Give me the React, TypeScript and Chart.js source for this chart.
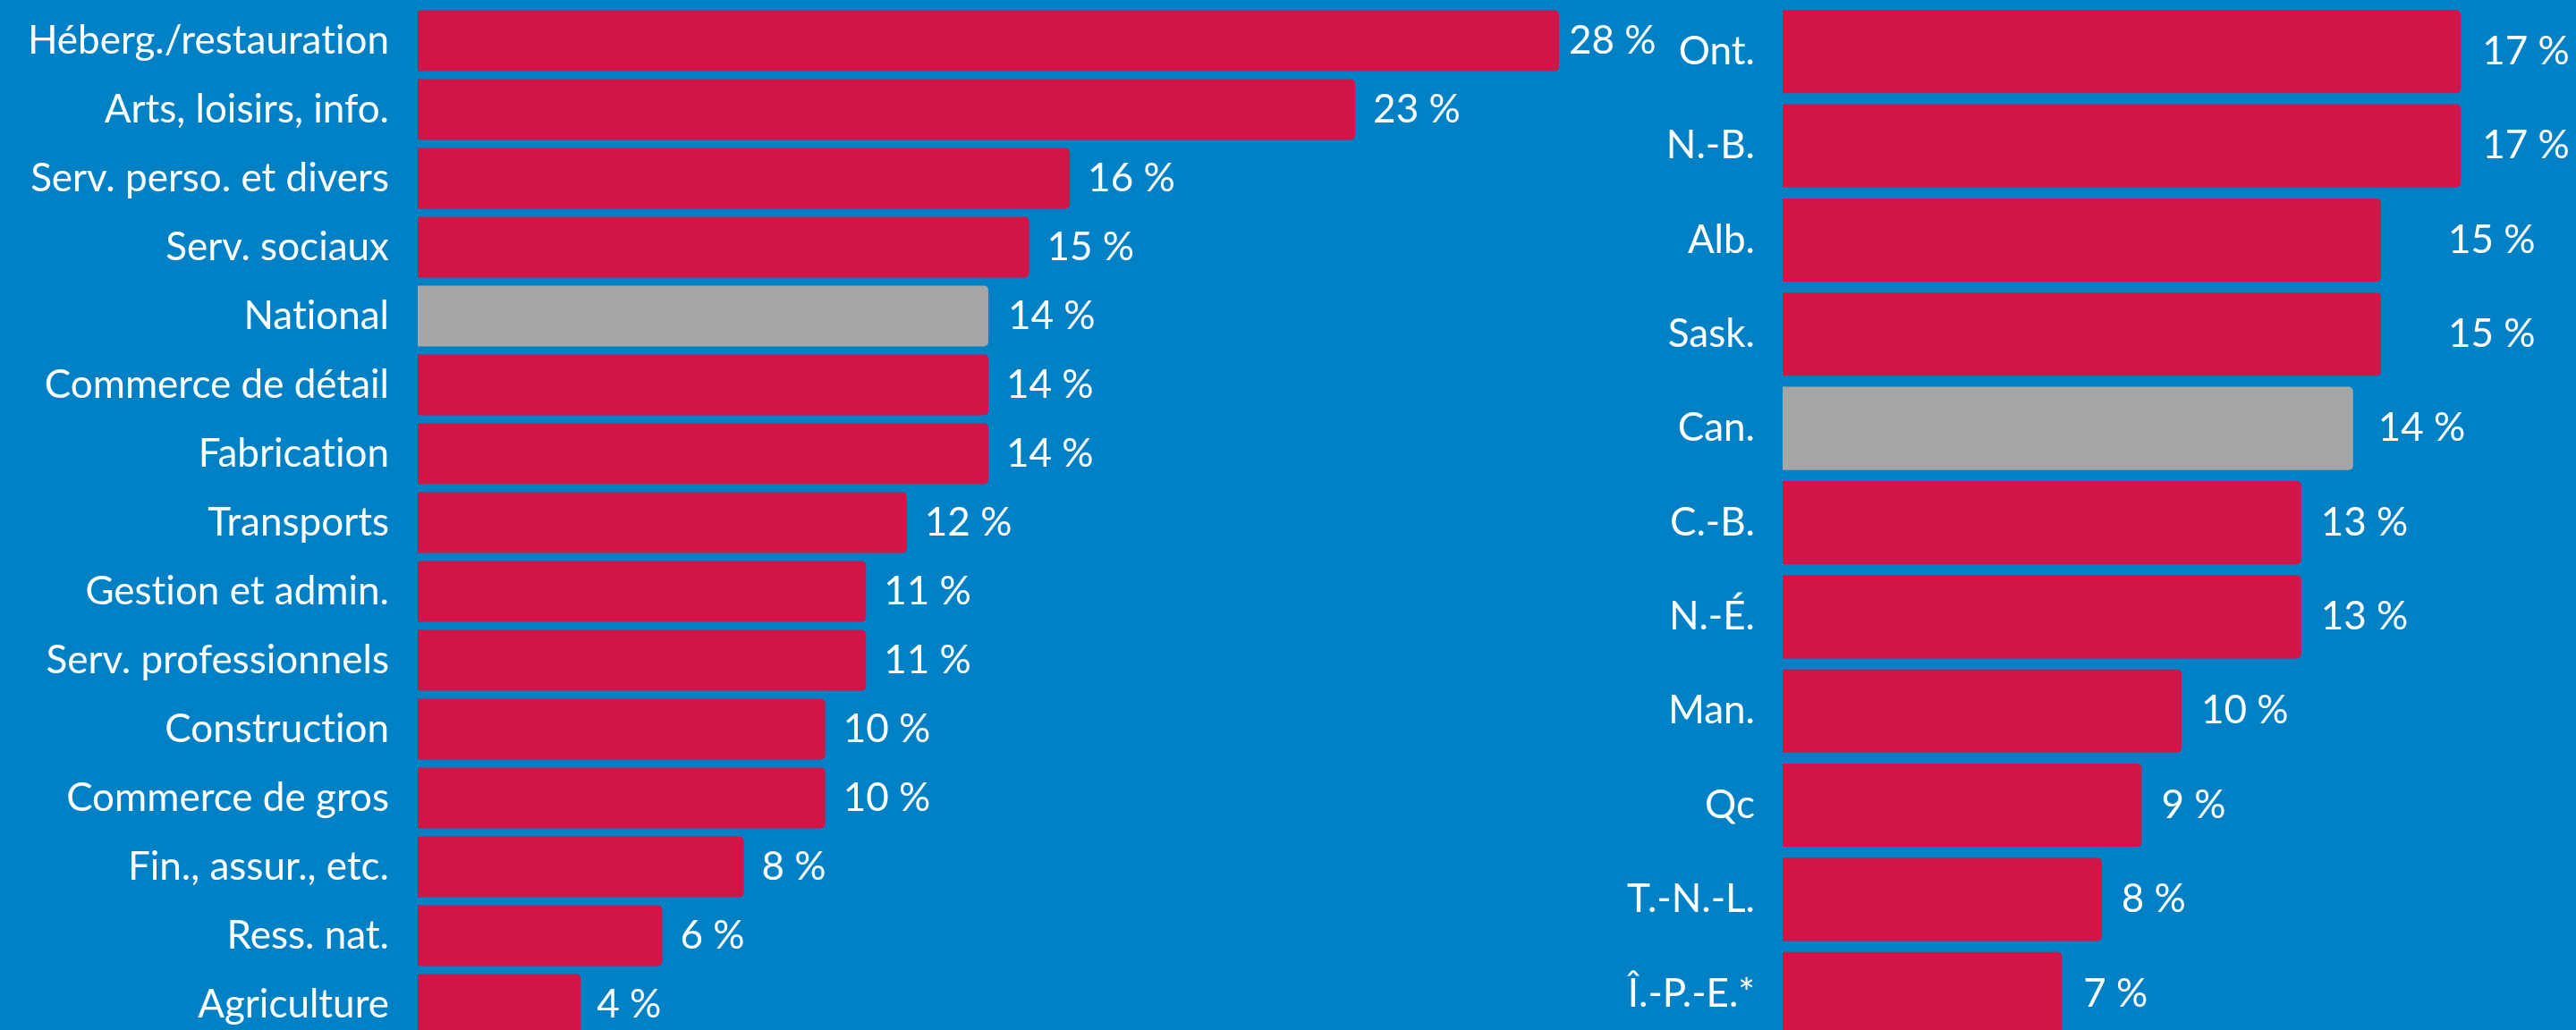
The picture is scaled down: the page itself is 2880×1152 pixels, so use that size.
import React, { useEffect, useRef } from "react";
import { Chart, registerables } from "chart.js";

Chart.register(...registerables);

// ---- Data ----
const sectorLabels = [
  "Héberg./restauration",
  "Arts, loisirs, info.",
  "Serv. perso. et divers",
  "Serv. sociaux",
  "National",
  "Commerce de détail",
  "Fabrication",
  "Transports",
  "Gestion et admin.",
  "Serv. professionnels",
  "Construction",
  "Commerce de gros",
  "Fin., assur., etc.",
  "Ress. nat.",
  "Agriculture",
];
const sectorValues = [28, 23, 16, 15, 14, 14, 14, 12, 11, 11, 10, 10, 8, 6, 4];
const sectorHighlight = "National";

const provinceLabels = [
  "Ont.",
  "N.-B.",
  "Alb.",
  "Sask.",
  "Can.",
  "C.-B.",
  "N.-É.",
  "Man.",
  "Qc",
  "T.-N.-L.",
  "Î.-P.-E.*",
];
const provinceValues = [17, 17, 15, 15, 14.3, 13, 13, 10, 9, 8, 7];
const provinceHighlight = "Can.";

// ---- Style ----
const BG = "#0081C6";
const RED = "#D31446";
const GRAY = "#A6A6A6";
const FONT = "Lato, 'Open Sans', sans-serif";
const FONT_SIZE = 44;

const sectorLabelOffsets = [11, 20, 20, 20, 22, 20, 20, 20, 20, 20, 20, 20, 20, 20, 18];
const provinceLabelOffsets = [24, 24, 75, 75, 28, 22, 22, 22, 22, 22, 24];

const noLigaturesPlugin = {
  id: "noLigatures",
  beforeDraw(chart: any) {
    try {
      chart.ctx.textRendering = "optimizeSpeed";
    } catch (e) {}
  },
};

const valueLabelsPlugin = {
  id: "valueLabels",
  afterDatasetsDraw(chart: any, _args: any, opts: any) {
    const { ctx } = chart;
    const meta = chart.getDatasetMeta(0);
    const data = chart.data.datasets[0].data as number[];
    ctx.save();
    ctx.font = `${FONT_SIZE}px ${FONT}`;
    ctx.fillStyle = "#ffffff";
    ctx.textAlign = "left";
    ctx.textBaseline = "middle";
    meta.data.forEach((bar: any, i: number) => {
      const off = (opts.offsets && opts.offsets[i]) ?? 20;
      ctx.fillText(`${Math.round(data[i])}\u00a0%`, bar.x + off, bar.y);
    });
    ctx.restore();
  },
};

function makeConfig(
  labels: string[],
  values: number[],
  highlight: string,
  axisWidth: number,
  tickPad: number,
  xMax: number,
  padTop: number,
  offsets: number[]
): any {
  return {
    type: "bar",
    data: {
      labels,
      datasets: [
        {
          data: values,
          backgroundColor: labels.map((l) => (l === highlight ? GRAY : RED)),
          borderWidth: 0,
          borderRadius: 5,
          borderSkipped: "start",
          barPercentage: 0.883,
          categoryPercentage: 1,
        },
      ],
    },
    plugins: [noLigaturesPlugin, valueLabelsPlugin],
    options: {
      indexAxis: "y",
      responsive: false,
      animation: false,
      devicePixelRatio: 1,
      layout: { padding: { top: padTop, bottom: 0, left: 0, right: 0 } },
      plugins: {
        legend: { display: false },
        tooltip: { enabled: false },
        valueLabels: { offsets },
      },
      scales: {
        x: {
          display: false,
          min: 0,
          max: xMax,
        },
        y: {
          afterFit: (scale: any) => {
            scale.width = axisWidth;
            scale.paddingTop = 0;
            scale.paddingBottom = 0;
          },
          grid: { display: false, drawTicks: false },
          border: { display: false },
          ticks: {
            color: "#ffffff",
            padding: tickPad,
            autoSkip: false,
            font: { family: FONT, size: FONT_SIZE },
          },
        },
      },
    },
  };
}

function BarCanvas(props: {
  left: number;
  width: number;
  height: number;
  config: any;
}) {
  const ref = useRef<HTMLCanvasElement | null>(null);
  useEffect(() => {
    if (!ref.current) return;
    const chart = new Chart(ref.current, props.config);
    return () => chart.destroy();
  }, []);
  return (
    <canvas
      ref={ref}
      width={props.width}
      height={props.height}
      style={{
        position: "absolute",
        left: props.left,
        top: 0,
        width: props.width,
        height: props.height,
      }}
    />
  );
}

export default function App() {
  const leftWidth = 1860;
  const rightLeft = 1760;
  const rightWidth = 2880 - rightLeft;
  const rightAxis = 1993 - rightLeft;
  const leftConfig = makeConfig(
    sectorLabels,
    sectorValues,
    sectorHighlight,
    467,
    32,
    (leftWidth - 467) / 45.57,
    7,
    sectorLabelOffsets
  );
  const rightConfig = makeConfig(
    provinceLabels,
    provinceValues,
    provinceHighlight,
    rightAxis,
    31,
    (rightWidth - rightAxis) / 44.6,
    5,
    provinceLabelOffsets
  );
  return (
    <div
      style={{
        position: "absolute",
        left: 0,
        top: 0,
        width: 2880,
        height: 1152,
        overflow: "hidden",
        background: BG,
      }}
    >
      <BarCanvas left={0} width={leftWidth} height={1162} config={leftConfig} />
      <BarCanvas left={rightLeft} width={rightWidth} height={1164} config={rightConfig} />
    </div>
  );
}
